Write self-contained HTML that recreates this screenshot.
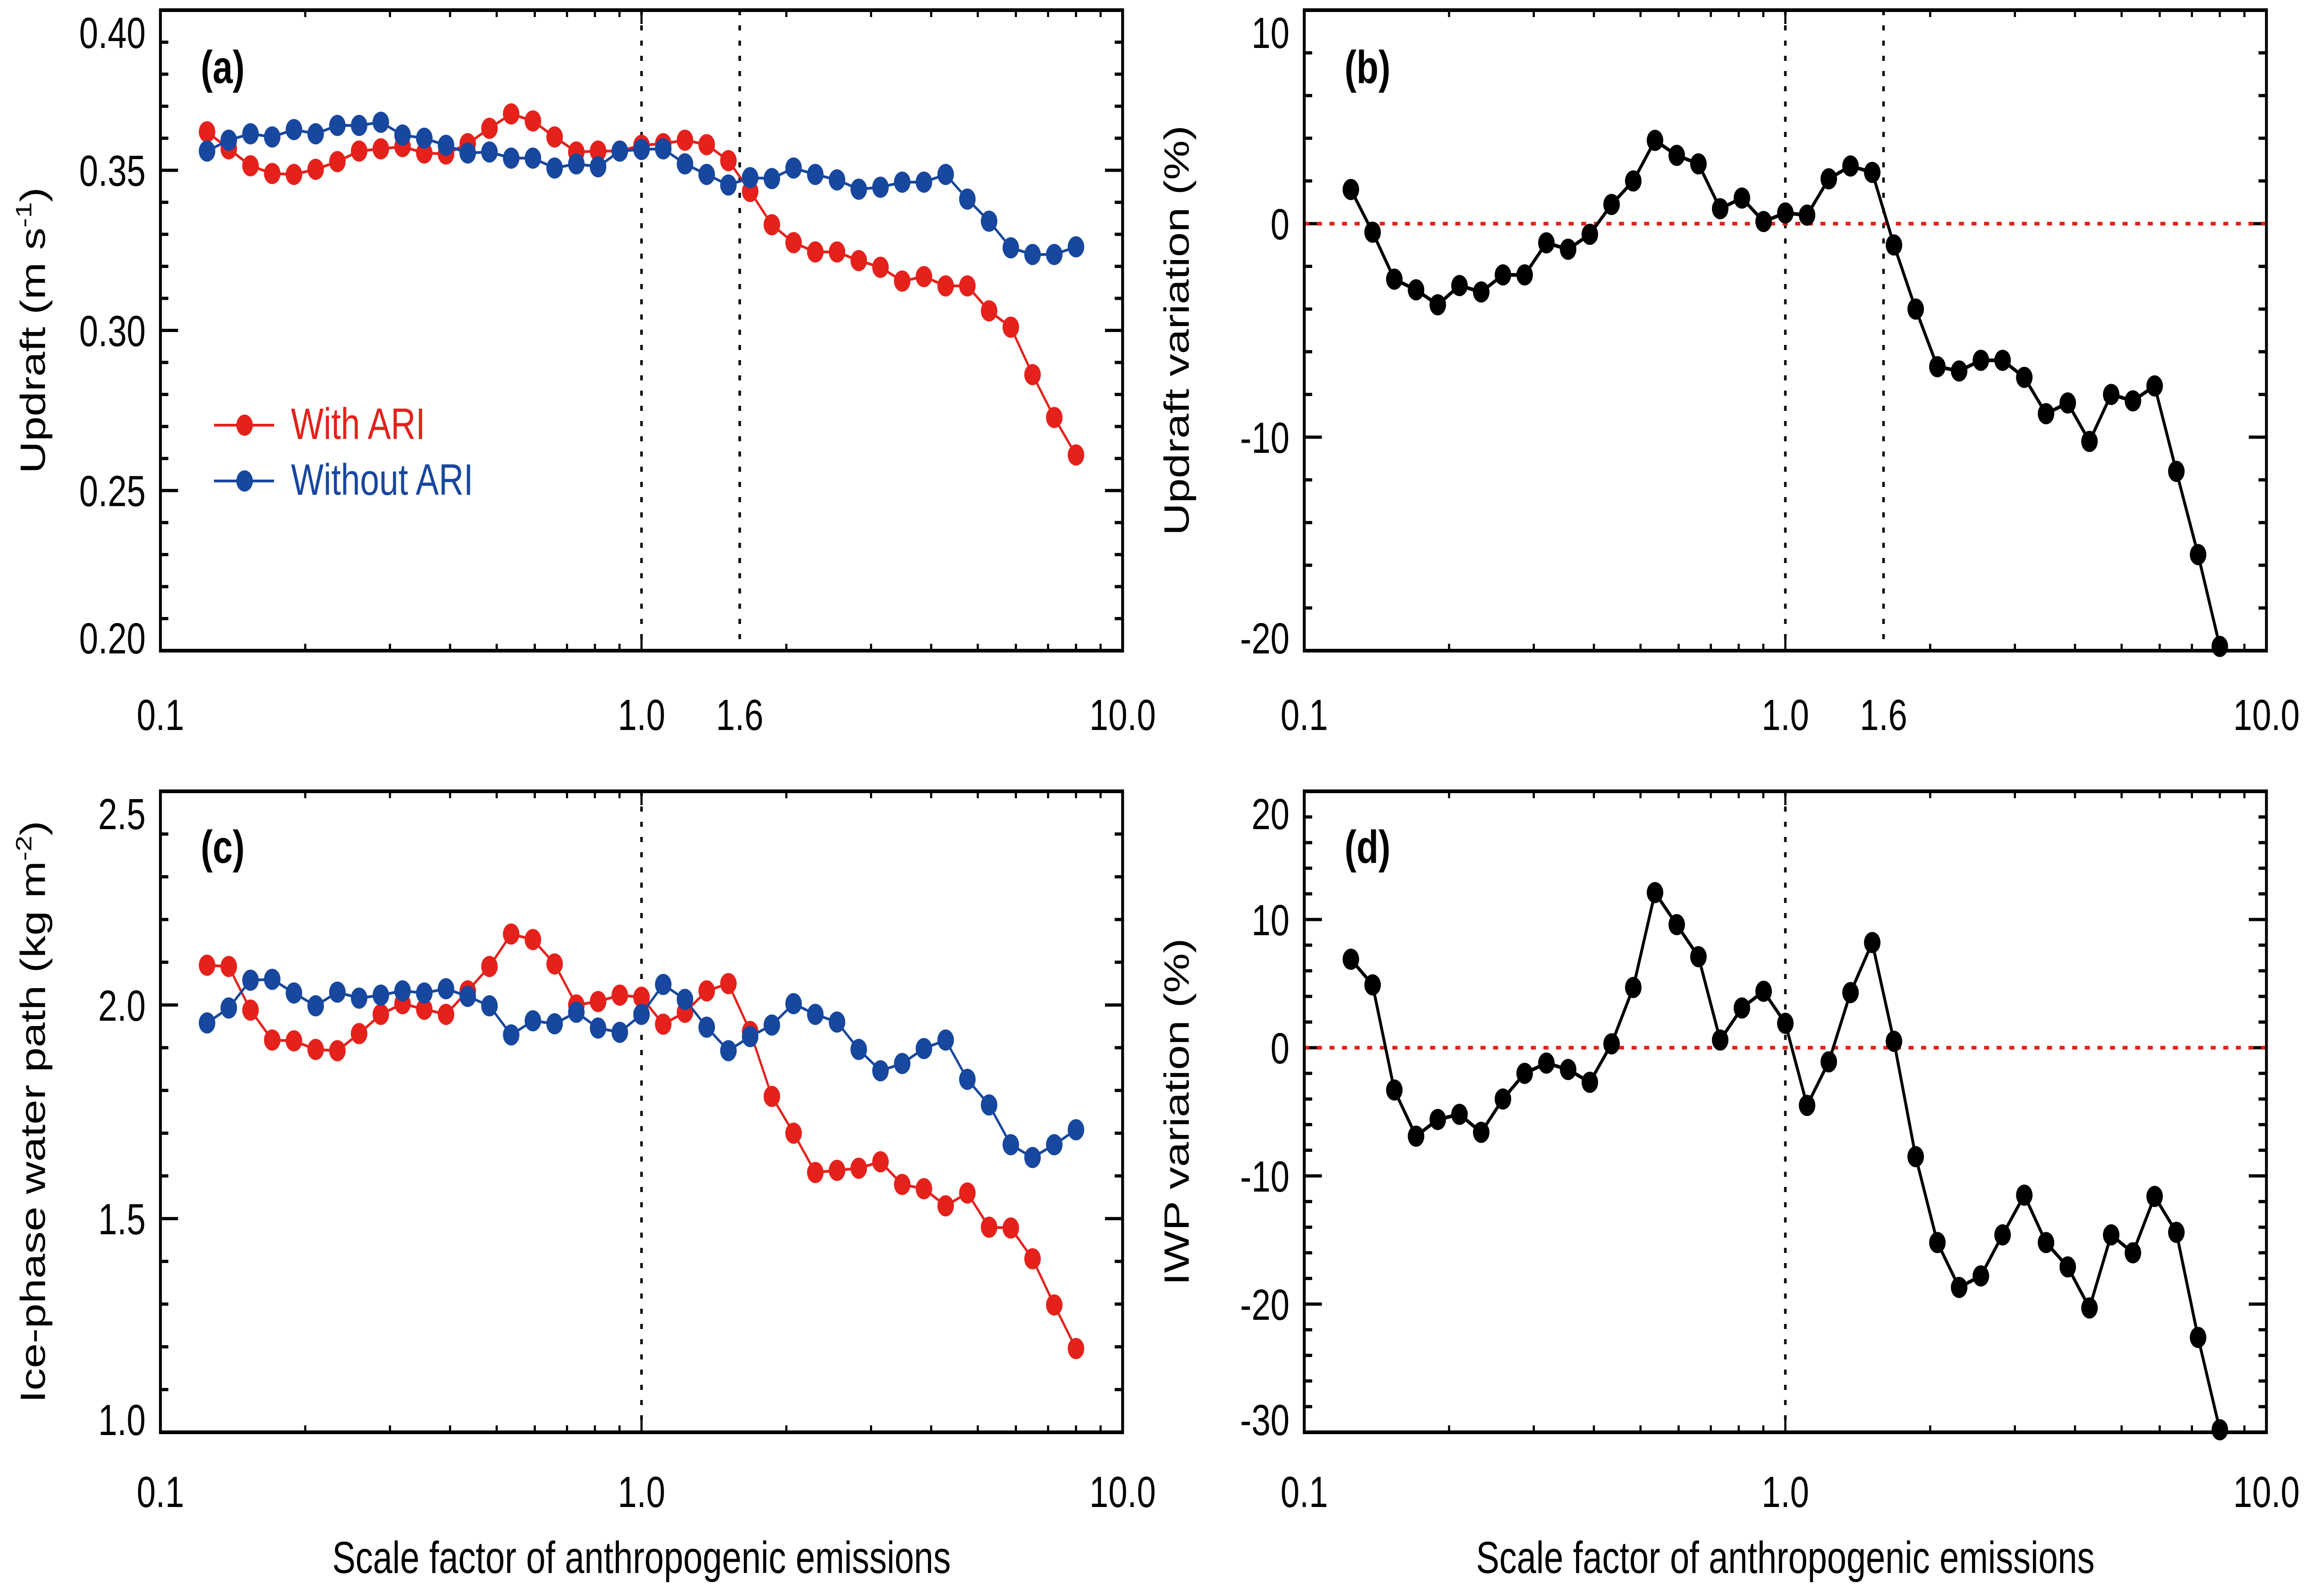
<!DOCTYPE html>
<html><head><meta charset="utf-8"><style>
html,body{margin:0;padding:0;background:#fff;width:100%;height:100%;overflow:hidden;}
svg{display:block;font-family:"Liberation Sans",Arial,sans-serif;width:100vw;height:100vh;}
</style></head><body>
<svg id="fig" viewBox="0 0 6411 3461" preserveAspectRatio="none" xmlns="http://www.w3.org/2000/svg"></svg>
<script>
// ---- data ----
const scaleFactors = Array.from({length:41},(_,k)=>0.125*Math.pow(2,0.15*k));
const updraftWithARI = [0.362,0.3567,0.3514,0.349,0.3487,0.3503,0.3527,0.356,0.3567,0.3574,0.3554,0.3551,0.3583,0.3631,0.3676,0.3654,0.3604,0.3557,0.356,0.356,0.3578,0.3583,0.3594,0.358,0.353,0.3434,0.333,0.3274,0.3245,0.3245,0.3218,0.3197,0.3154,0.3168,0.3139,0.3139,0.3061,0.301,0.2862,0.2728,0.2611];
const updraftWithoutARI = [0.356,0.3594,0.3614,0.3604,0.3627,0.3614,0.364,0.364,0.365,0.361,0.360,0.3578,0.3554,0.3557,0.3538,0.3538,0.3507,0.352,0.3511,0.356,0.3565,0.3567,0.352,0.3487,0.3454,0.3477,0.3474,0.3507,0.3487,0.347,0.3441,0.3447,0.3463,0.3463,0.3487,0.341,0.3341,0.3258,0.3237,0.3237,0.3261];
const updraftVariation = [1.6,-0.4,-2.6,-3.1,-3.8,-2.9,-3.2,-2.4,-2.4,-0.9,-1.2,-0.5,0.9,2.0,3.9,3.2,2.8,0.7,1.2,0.1,0.5,0.4,2.1,2.7,2.4,-1.0,-4.0,-6.7,-6.9,-6.4,-6.4,-7.2,-8.9,-8.4,-10.2,-8.0,-8.3,-7.6,-11.6,-15.5,-19.8];
const iwpWithARI = [2.093,2.09,1.988,1.918,1.916,1.896,1.893,1.933,1.978,2.003,1.99,1.978,2.033,2.09,2.166,2.153,2.096,2.0,2.008,2.023,2.018,1.955,1.983,2.033,2.05,1.938,1.786,1.70,1.608,1.613,1.618,1.633,1.58,1.57,1.53,1.56,1.48,1.478,1.406,1.298,1.196];
const iwpWithoutARI = [1.958,1.993,2.058,2.06,2.028,1.998,2.03,2.016,2.023,2.033,2.028,2.038,2.02,1.998,1.93,1.963,1.956,1.983,1.946,1.936,1.978,2.048,2.013,1.948,1.893,1.926,1.953,2.003,1.978,1.96,1.896,1.846,1.863,1.898,1.918,1.826,1.766,1.673,1.643,1.673,1.708];
const iwpVariation = [6.9,4.9,-3.3,-6.9,-5.6,-5.2,-6.6,-4.0,-2.0,-1.2,-1.7,-2.7,0.3,4.7,12.1,9.6,7.1,0.6,3.1,4.4,1.9,-4.5,-1.1,4.3,8.2,0.5,-8.5,-15.2,-18.7,-17.8,-14.6,-11.5,-15.2,-17.1,-20.3,-14.6,-16.0,-11.6,-14.4,-22.6,-29.8];
const xTickValues = [0.1,1,10];
const xTickLabels = ["0.1","1.0","10.0"];
const updraftTicks = [0.20,0.25,0.30,0.35,0.40];
const updraftTickLabels = ["0.20","0.25","0.30","0.35","0.40"];
const updraftVarTicks = [-20,-10,0,10];
const iwpTicks = [1.0,1.5,2.0,2.5];
const iwpTickLabels = ["1.0","1.5","2.0","2.5"];
const iwpVarTicks = [-30,-20,-10,0,10,20];

const RED="#e5211c", BLUE="#17479e";
const NS="http://www.w3.org/2000/svg";
const svg=document.getElementById('fig');
function el(tag,attrs,parent){const e=document.createElementNS(NS,tag);for(const k in attrs)e.setAttribute(k,attrs[k]);(parent||svg).appendChild(e);return e;}

function panel(p){
  const g=el('g',{});
  
  
  const L=p.x0,R=p.x1,T=p.y0,B=p.y1;
  const xs=v=>L+(Math.log10(v)+1)/2*(R-L);
  const ys=v=>B-(v-p.ymin)/(p.ymax-p.ymin)*(B-T);
  for(let v=p.ymin;v<=p.ymax+1e-9;v+=p.minor){
    const isMaj=Math.abs(Math.round(v/p.major)*p.major-v)<1e-6;
    const len=isMaj?49:22, y=ys(v);
    el('line',{x1:L,y1:y,x2:L+len,y2:y,stroke:'#000','stroke-width':7},g);
    el('line',{x1:R,y1:y,x2:R-len,y2:y,stroke:'#000','stroke-width':7},g);
  }
  for(let d=-1;d<=0;d++)for(let m=1;m<=9;m++){
    const v=m*Math.pow(10,d); if(v<=0.1)continue;
    const len=(m===1)?30:15,x=xs(v);
    el('line',{x1:x,y1:B,x2:x,y2:B-len,stroke:'#000','stroke-width':6},g);
    el('line',{x1:x,y1:T,x2:x,y2:T+len,stroke:'#000','stroke-width':6},g);
  }
  p.vlines.forEach(v=>{const l=el('line',{x1:xs(v),y1:T,x2:xs(v),y2:B,stroke:'#000','stroke-width':7,'stroke-dasharray':'11 22'},g);
    
    });
  if(p.zeroLine){const l=el('line',{x1:L,y1:ys(0),x2:R,y2:ys(0),stroke:RED,'stroke-width':8,'stroke-dasharray':'14 21'},g);
    
    }
  p.series.forEach(s=>{
    const sg=el('g',{},g);
    
    
    el('polyline',{points:s.data.map((v,i)=>xs(scaleFactors[i])+','+ys(v)).join(' '),fill:'none',stroke:s.color,'stroke-width':s.w,'stroke-linejoin':'round'},sg);
    s.data.forEach((v,i)=>{const c=el('circle',{cx:xs(scaleFactors[i]),cy:ys(v),r:23,fill:s.color},sg);
      
      });
  });
  el('rect',{x:L,y:T,width:R-L,height:B-T,fill:'none',stroke:'#000','stroke-width':8},g);
  p.yt.forEach((v,i)=>{
    let y=ys(v)+34;
    if(Math.abs(v-p.ymax)<1e-9) y+=48;
    if(Math.abs(v-p.ymin)<1e-9) y-=28;
    const t=el('text',{x:L-41,y:y,'font-size':95,'text-anchor':'end'},g);t.textContent=p.ytl[i];
    
    });
  const xl=p.xLabels;
  xl.v.forEach((v,i)=>{const t=el('text',{x:xs(v),y:B+p.xlOff,'font-size':95,'text-anchor':'middle'},g);t.textContent=xl.l[i];
    
    });
  const pl=el('text',{x:L+112,y:T+p.lblOff,'font-size':100,'font-weight':'bold'},g);pl.textContent=p.letter;
  
  
  const yt=el('text',{x:0,y:0,'font-size':97,'text-anchor':'middle',transform:`translate(${L-355+34},${(T+B)/2}) rotate(-90)`},g);
  yt.innerHTML=p.ytitle;
  
  
  if(p.xtitle){const xt=el('text',{x:(L+R)/2,y:3411,'font-size':97,'text-anchor':'middle'},g);xt.textContent='Scale factor of anthropogenic emissions';
    
    }
  return {xs,ys};
}
const topX={v:[0.1,1,1.6,10],l:["0.1","1.0","1.6","10.0"]};
const botX={v:xTickValues,l:xTickLabels};
const yfmt=a=>a.map(v=>String(v));
panel({name:'panel-a-updraft',letter:'(a)',x0:446,x1:3121,y0:22,y1:1411,ymin:0.2,ymax:0.4,minor:0.01,major:0.05,yt:updraftTicks,ytl:updraftTickLabels,vlines:[1,1.6],zeroLine:false,xLabels:topX,xlOff:172,lblOff:158,
  ytitle:'Updraft (m s<tspan dy="-38" font-size="62">-1</tspan><tspan dy="38">)</tspan>',
  series:[{name:'updraft-with-ari',data:updraftWithARI,color:RED,w:6},{name:'updraft-without-ari',data:updraftWithoutARI,color:BLUE,w:6}]});
panel({name:'panel-b-updraft-variation',letter:'(b)',x0:3626,x1:6301,y0:22,y1:1411,ymin:-20,ymax:10,minor:2,major:10,yt:updraftVarTicks,ytl:yfmt(updraftVarTicks),vlines:[1,1.6],zeroLine:true,xLabels:topX,xlOff:172,lblOff:158,
  ytitle:'Updraft variation (%)',
  series:[{name:'updraft-variation',data:updraftVariation,color:'#000',w:8}]});
panel({name:'panel-c-ice-water-path',letter:'(c)',x0:446,x1:3121,y0:1716,y1:3106,ymin:1.0,ymax:2.5,minor:0.1,major:0.5,yt:iwpTicks,ytl:iwpTickLabels,vlines:[1],zeroLine:false,xLabels:botX,xlOff:162,lblOff:155,xtitle:true,
  ytitle:'Ice-phase water path (kg m<tspan dy="-38" font-size="62">-2</tspan><tspan dy="38">)</tspan>',
  series:[{name:'iwp-with-ari',data:iwpWithARI,color:RED,w:6},{name:'iwp-without-ari',data:iwpWithoutARI,color:BLUE,w:6}]});
panel({name:'panel-d-iwp-variation',letter:'(d)',x0:3626,x1:6301,y0:1716,y1:3106,ymin:-30,ymax:20,minor:2,major:10,yt:iwpVarTicks,ytl:yfmt(iwpVarTicks),vlines:[1],zeroLine:true,xLabels:botX,xlOff:162,lblOff:155,xtitle:true,
  ytitle:'IWP variation (%)',
  series:[{name:'iwp-variation',data:iwpVariation,color:'#000',w:8}]});
const lg=el('g',{});


[[RED,'With ARI',922,'legend-entry-with-ari'],[BLUE,'Without ARI',1043,'legend-entry-without-ari']].forEach(r=>{
  const eg=el('g',{},lg);
  
  
  el('line',{x1:595,y1:r[2],x2:762,y2:r[2],stroke:r[0],'stroke-width':6},eg);
  el('circle',{cx:680,cy:r[2],r:23,fill:r[0]},eg);
  const t=el('text',{x:809,y:r[2]+30,'font-size':96,fill:r[0]},eg);t.textContent=r[1];
});
</script>
</body></html>
